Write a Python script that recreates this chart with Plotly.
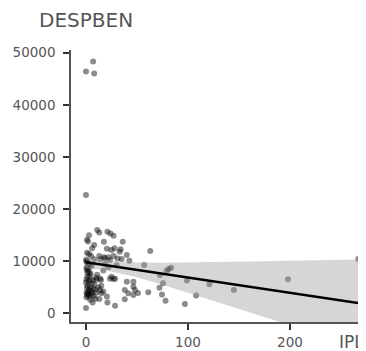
import plotly.graph_objects as go

# scatter data (IPL vs DESPBEN)
ipl = [7, 0, 8, 0,
       11, 13, 21, 24, 27, 3, 1, 2, 17.5, 36, 8, 6, 20.5, 34, 63, 25,
       1, 3, 5, 13, 17.5, 22, 27, 40, 0, 1.3, 8, 14, 18.5, 23.5, 35, 42.5, 31,
       2, 4, 5.5, 57, 22, 0.5,
       0.7, 3, 4.6, 1.3, 17, 81, 83.5, 79, 72.5,
       13.7, 14.7, 4, 7, 10, 23.5, 27, 28.5, 0, 40, 46.5, 99, 75.5,
       46.5, 48, 38, 121, 145, 72, 61, 51, 1, 3, 5, 7, 9, 2, 10.5, 13.7, 15.3, 41.5,
       46.5, 74.5, 78, 108, 97, 38, 28.5, 20.5, 21, 6.5, 13, 1, 3, 5, 7.5, 9,
       0,
       0.5, 2, 1.5, 3.5, 0.5, 2.5, 5.5, 1.5, 4, 8, 0.5, 2, 6, 0.5, 4, 10, 12, 15, 17, 11, 25, 19, 30, 33, 28,
       198, 267]
despben = [48300, 46400, 46000, 22700,
           16000, 15500, 15650, 15300, 14900, 15000, 14100, 13800, 13750, 13750, 13100, 12500, 12400, 12300, 11950, 12150,
           11600, 11400, 11000, 11000, 10750, 10750, 11000, 11200, 10300, 10000, 10350, 10350, 10550, 10250, 10400, 10100, 10500,
           9600, 9300, 9100, 9270, 8850, 9900,
           8300, 8000, 7550, 7000, 8200, 8500, 8750, 8180, 7350,
           6700, 6400, 6400, 6400, 6400, 6650, 6600, 6650, 5900, 6050, 6050, 6300, 5750,
           5100, 4450, 4450, 5570, 4470, 4900, 4030, 3900, 4900, 4500, 4300, 4700, 4500, 4100, 3950, 4450, 3850, 3850,
           3500, 3600, 2400, 3400, 1800, 2700, 1450, 3200, 2050, 2050, 2750, 3500, 3200, 3600, 3300, 2800,
           1000,
           8800, 8500, 7800, 7200, 6500, 6100, 5700, 5300, 5000, 5500, 4000, 3700, 3900, 3100, 2600, 6800, 5000, 5300, 4200, 7400, 7000, 9500, 9200, 11800, 12500,
           6520, 10420]

# linear fit and confidence band
fit_x = [0, 10, 20, 30, 50, 75, 100, 125, 150, 175, 200, 235, 267]
fit_y = [9800, 9506, 9212, 8918, 8330, 7595, 6860, 6125, 5390, 4655, 3920, 2891, 1950]
band_hi = [11006, 10561, 10212, 9973, 9753, 9703, 9738, 9806, 9888, 9979, 10074, 10213, 10342]
band_lo = [8594, 8451, 8212, 7863, 6907, 5487, 3982, 2444, 892, -669, -2234, -4431, -6442]

y_ticks = [0, 10000, 20000, 30000, 40000, 50000]
x_ticks = [0, 100, 200]

fig = go.Figure()
fig.add_trace(go.Scatter(x=ipl, y=despben, mode="markers",
                         marker=dict(size=6, color="rgba(0,0,0,0.45)", line=dict(width=0)),
                         showlegend=False, cliponaxis=True))
fig.add_trace(go.Scatter(x=fit_x + fit_x[::-1], y=band_hi + band_lo[::-1], fill="toself",
                         fillcolor="rgba(153,153,153,0.4)", line=dict(width=0),
                         mode="lines", showlegend=False, hoverinfo="skip"))
fig.add_trace(go.Scatter(x=fit_x, y=fit_y, mode="lines", line=dict(color="black", width=2.5),
                         showlegend=False))

tickfont = dict(family="DejaVu Sans", size=13.5, color="#555555")
fig.update_layout(
    width=358, height=343,
    margin=dict(l=63, r=0, t=42, b=29, pad=0),
    plot_bgcolor="white", paper_bgcolor="white",
    xaxis=dict(range=[-14.7, 274.5], tickvals=x_ticks, ticktext=[str(v) for v in x_ticks],
               showgrid=False, zeroline=False, showline=True, linecolor="#555555", linewidth=1.5,
               ticks="outside", ticklen=6, tickwidth=1.5, tickcolor="#333333", tickfont=tickfont,
               ticklabelstandoff=1),
    yaxis=dict(range=[-1670, 50530], tickvals=y_ticks, ticktext=[str(v) for v in y_ticks],
               showgrid=False, zeroline=False, showline=True, linecolor="#555555", linewidth=1.5,
               ticks="outside", ticklen=6, tickwidth=1.5, tickcolor="#333333", tickfont=tickfont,
               ticklabelstandoff=5),
    annotations=[
        dict(text="DESPBEN", xref="paper", yref="paper", x=-0.1153, y=1.11, xanchor="left",
             yanchor="middle", showarrow=False, font=dict(family="DejaVu Sans", size=20, color="#555555")),
        dict(text="IPL", xref="paper", yref="paper", x=0.9, y=-0.03, xanchor="left",
             yanchor="top", showarrow=False, font=dict(family="DejaVu Sans", size=17, color="#555555")),
    ],
)
fig.write_html("out.html")
